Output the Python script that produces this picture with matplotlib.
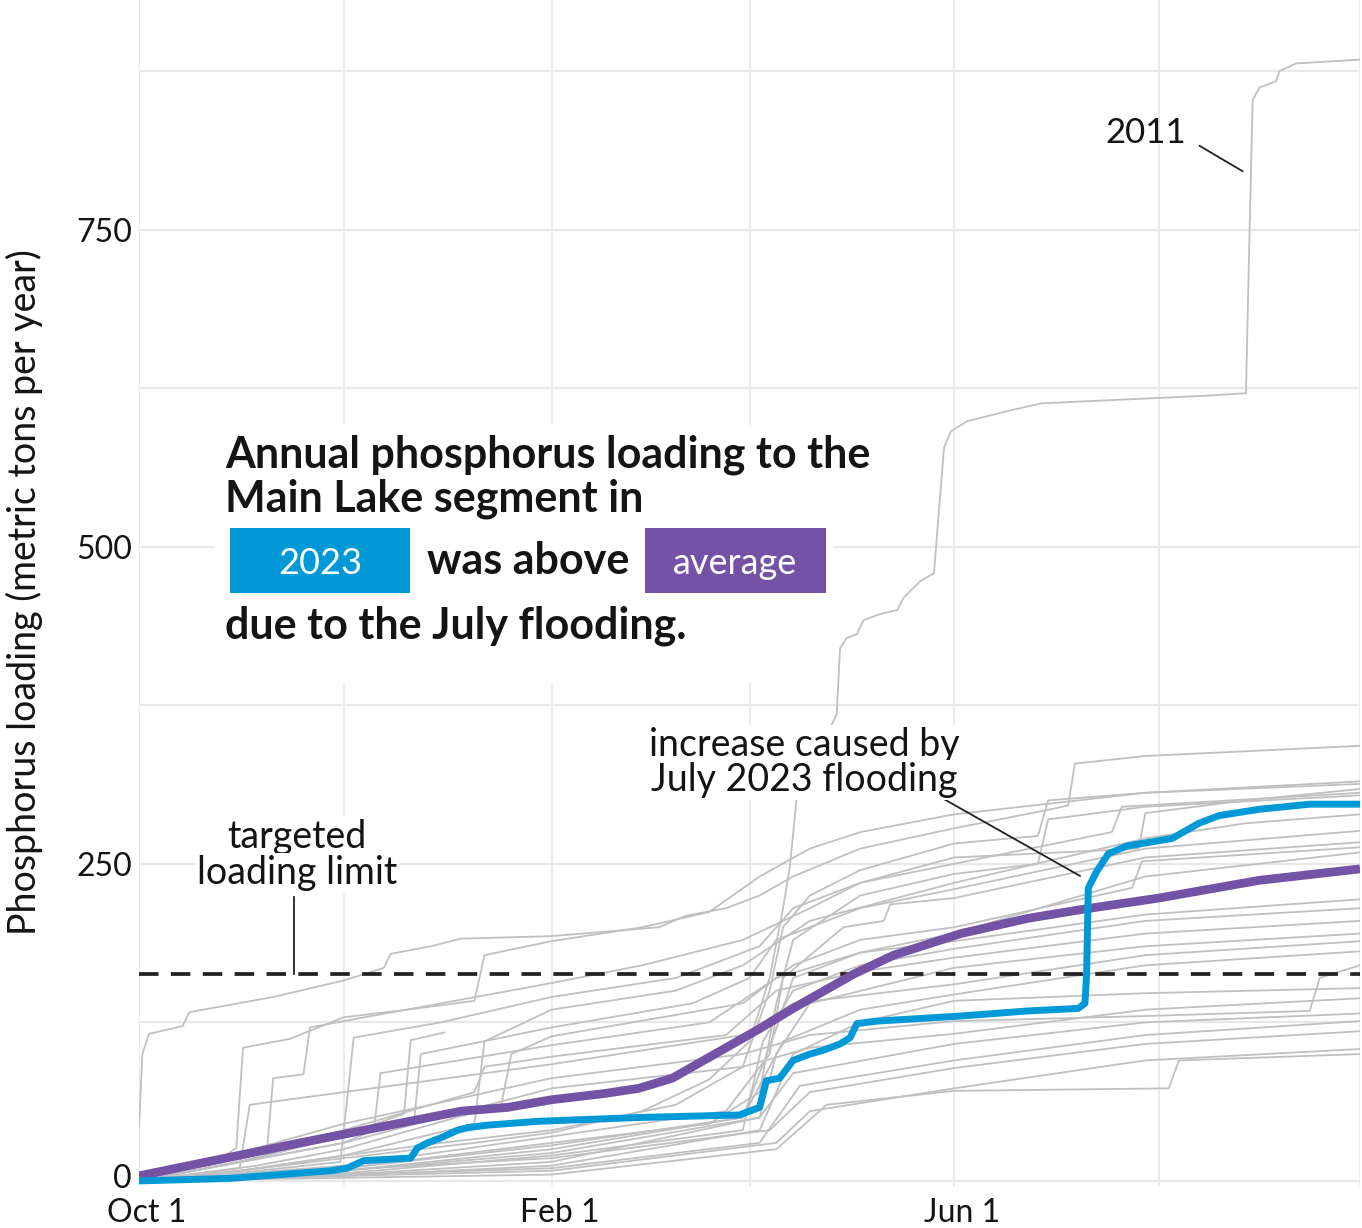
import matplotlib
matplotlib.use("Agg")
import matplotlib.pyplot as plt
from matplotlib.patches import Rectangle
import matplotlib.transforms as mtransforms

W, H = 1362, 1228
plt.rcParams['font.family'] = ['Lato', 'DejaVu Sans']

# x axis is days since Oct 1 (water year)
grid_days = [0, 61, 123, 182, 243, 304, 364]
tick_days = [0, 123, 243]
tick_labels = ["Oct 1", "Feb 1", "Jun 1"]
grid_load = [0, 125, 250, 375, 500, 625, 750, 875]
tick_load = [0, 250, 500, 750]
loading_limit = 163

# cumulative loading (metric tons) for past water years, (day, load)
wy2011 = [(0, 0), (30, 8), (61, 18), (100, 30), (123, 38), (150, 55), (170, 80), (182, 110),
          (188, 160), (192, 215), (194, 247), (196, 300), (202, 335), (208, 368), (209, 420),
          (211, 428), (214, 431), (216, 442), (221, 447), (226, 450), (228, 460), (233, 473),
          (237, 479), (238, 513), (240, 578), (242, 591), (247, 599), (259, 607), (269, 613),
          (318, 619), (330, 621), (331, 740), (332, 852), (334, 862), (339, 867), (340, 875),
          (345, 881), (364, 884)]
past_01 = [(0, 42), (1, 100), (3, 116), (13, 122), (15, 133), (40, 145), (61, 158), (73, 168),
           (75, 179), (87, 185), (96, 191), (123, 193), (155, 200), (163, 209), (175, 215),
           (185, 225), (195, 240), (215, 262), (243, 278), (270, 292), (277, 296), (279, 329),
           (300, 335), (340, 340), (364, 343)]
past_02 = [(0, 0), (20, 10), (29, 26), (31, 105), (45, 112), (61, 129), (80, 135), (100, 142),
           (103, 178), (123, 189), (150, 200), (170, 212), (185, 240), (200, 262), (215, 275),
           (243, 289), (280, 300), (300, 306), (364, 315)]
past_03 = [(0, 0), (30, 8), (61, 20), (90, 30), (123, 40), (160, 60), (180, 90), (188, 150),
           (192, 200), (200, 225), (215, 245), (243, 266), (268, 272), (271, 300), (300, 306),
           (364, 313)]
past_04 = [(0, 0), (20, 10), (38, 20), (40, 81), (49, 84), (51, 121), (61, 126), (90, 140),
           (123, 156), (150, 170), (180, 190), (200, 215), (215, 235), (243, 255), (298, 262),
           (300, 290), (330, 300), (364, 309)]
past_05 = [(0, 0), (25, 5), (60, 15), (62, 63), (64, 113), (90, 125), (123, 145), (160, 160),
           (185, 185), (195, 215), (215, 235), (243, 250), (290, 275), (293, 295), (364, 306)]
past_06 = [(0, 0), (40, 5), (61, 10), (123, 30), (170, 45), (185, 70), (190, 140), (195, 190),
           (215, 225), (243, 242), (268, 250), (271, 285), (300, 295), (364, 304)]
past_07 = [(0, 0), (30, 8), (61, 20), (100, 45), (103, 110), (123, 135), (160, 150), (180, 170),
           (200, 205), (243, 235), (300, 270), (330, 282), (364, 289)]
past_08 = [(0, 0), (30, 15), (61, 35), (82, 47), (84, 100), (123, 121), (165, 140), (182, 160),
           (190, 190), (215, 215), (243, 230), (300, 262), (364, 276)]
past_09 = [(0, 0), (61, 12), (123, 35), (175, 55), (188, 100), (192, 160), (210, 200), (222, 205),
           (224, 218), (243, 223), (300, 255), (364, 267)]
past_10 = [(0, 0), (35, 12), (61, 25), (108, 60), (111, 100), (123, 114), (180, 140), (195, 170),
           (215, 190), (243, 200), (296, 231), (299, 252), (364, 263)]
past_11 = [(0, 0), (61, 8), (123, 25), (180, 50), (190, 120), (195, 160), (215, 180), (243, 195),
           (300, 240), (364, 259)]
past_12 = [(0, 0), (61, 30), (70, 40), (72, 85), (123, 107), (170, 125), (190, 160), (215, 180),
           (243, 189), (300, 210), (364, 222)]
past_13 = [(0, 0), (61, 6), (123, 20), (180, 40), (186, 110), (195, 150), (215, 170), (243, 183),
           (300, 205), (364, 215)]
past_14 = [(0, 0), (61, 40), (100, 70), (103, 90), (123, 98), (175, 115), (190, 150), (215, 165),
           (243, 176), (300, 195), (364, 205)]
past_15 = [(0, 0), (61, 5), (123, 15), (185, 50), (190, 100), (200, 140), (223, 155), (243, 168),
           (300, 185), (364, 195)]
past_16 = [(0, 0), (30, 10), (33, 60), (61, 70), (123, 92), (180, 115), (195, 140), (243, 155),
           (300, 178), (364, 189)]
past_17 = [(0, 0), (61, 10), (123, 28), (180, 50), (192, 110), (215, 135), (243, 147), (300, 170),
           (364, 181)]
past_18 = [(0, 0), (61, 45), (123, 81), (180, 100), (200, 115), (243, 126), (300, 130), (349, 134),
           (352, 160), (364, 170)]
past_19 = [(0, 0), (61, 4), (123, 12), (185, 40), (195, 100), (215, 125), (243, 142), (300, 148),
           (364, 152)]
past_20 = [(0, 0), (61, 30), (123, 73), (180, 90), (200, 105), (243, 116), (300, 135), (364, 144)]
past_21 = [(0, 0), (61, 8), (123, 22), (185, 50), (195, 85), (243, 108), (300, 125), (364, 132)]
past_22 = [(0, 0), (123, 10), (185, 30), (197, 75), (243, 95), (300, 115), (364, 126)]
past_23 = [(0, 0), (123, 18), (188, 40), (200, 70), (243, 89), (300, 108), (364, 118)]
past_24 = [(0, 0), (123, 8), (190, 30), (200, 55), (243, 73), (300, 95), (364, 104)]
past_25 = [(0, 0), (123, 5), (190, 25), (205, 60), (243, 71), (307, 73), (310, 95), (364, 100)]
wy2024 = [(0, 0), (30, 15), (60, 35), (79, 53), (81, 111), (91, 117)]

past_years = [wy2011, past_01, past_02, past_03, past_04, past_05, past_06, past_07, past_08,
              past_09, past_10, past_11, past_12, past_13, past_14, past_15, past_16, past_17,
              past_18, past_19, past_20, past_21, past_22, past_23, past_24, past_25, wy2024]

wy2023_days = [0, 27, 57, 62, 67, 81, 83, 86, 90, 95, 98, 104, 119, 149, 179, 185, 187, 191, 195,
               200, 204, 209, 212, 214, 220, 245, 265, 280, 282, 282.5, 283, 285.5, 289, 294.5,
               308, 312, 316, 322, 334, 349, 364]
wy2023_load = [0, 2, 8, 10, 16, 18, 26, 30, 34, 40, 42, 44, 47, 50, 52, 58, 79, 81, 95,
               100, 103, 108, 113, 124, 126, 130, 134, 136, 140, 163, 231, 244, 258, 264,
               270, 276, 282, 288, 293, 297, 297]

avg_days = [0, 48, 96, 110, 123, 139, 149, 159, 169, 179, 185, 195, 205, 213, 225, 245, 265,
            281, 304, 334, 364]
avg_load = [4, 30, 55, 58, 64, 69, 73, 81, 96, 111, 120, 136, 151, 163, 178, 195, 207,
            214, 223, 237, 246]

gray = "#c0c0c2"
blue = "#0099d8"
purple = "#7452a6"
grid_c = "#e8e8e8"
ink = "#141414"

fig = plt.figure(figsize=(W / 100, H / 100), dpi=100)
ax = fig.add_axes([139 / W, 1 - 1186 / H, (1360 - 139) / W, 1186 / H])
ax.set_xlim(0, 364)
ax.set_ylim(-4, 931)

for d in grid_days:
    ax.axvline(d, color=grid_c, lw=1.2, zorder=0)
for v in grid_load:
    ax.axhline(v, color=grid_c, lw=1.6, zorder=0)

for yr in past_years:
    ax.plot([p[0] for p in yr], [p[1] for p in yr], color=gray, lw=1.3, zorder=2,
            solid_joinstyle="round")

ax.axhline(loading_limit, color="#222222", lw=2.7, dashes=(5.2, 3.3), zorder=3)
ax.plot(avg_days, avg_load, color=purple, lw=6.3, zorder=4, solid_capstyle="butt")
ax.plot(wy2023_days, wy2023_load, color=blue, lw=5, zorder=5, solid_capstyle="butt")

for s in ax.spines.values():
    s.set_visible(False)
ax.set_xticks(tick_days)
ax.set_xticklabels(tick_labels)
ax.set_yticks(tick_load)
ax.tick_params(length=0, labelsize=23, colors=ink)
ax.tick_params(axis="x", pad=9)
ax.tick_params(axis="y", pad=5)
off = mtransforms.ScaledTranslation(0.08, 0, fig.dpi_scale_trans)
for lab in ax.get_xticklabels():
    lab.set_transform(lab.get_transform() + off)
# lift the "0" label a little so it clears "Oct 1"
zero_lab = ax.get_yticklabels()[0]
zero_lab.set_transform(zero_lab.get_transform()
                       + mtransforms.ScaledTranslation(0, 0.05, fig.dpi_scale_trans))


def fx(px):
    return px / W


def fy(py):
    return 1 - py / H


fig.text(fx(24), fy(592), "Phosphorus loading (metric tons per year)", fontsize=27,
         rotation=90, ha="center", va="center", color=ink)

# white panel behind the headline
fig.patches.append(Rectangle((fx(215), fy(682)), fx(833) - fx(215), fy(425) - fy(682),
                             transform=fig.transFigure, facecolor="white", edgecolor="none",
                             zorder=1))
fig.text(fx(225), fy(467), "Annual phosphorus loading to the", fontsize=31, fontweight="bold",
         color=ink, va="baseline", zorder=3)
fig.text(fx(225), fy(511), "Main Lake segment in", fontsize=31, fontweight="bold",
         color=ink, va="baseline", zorder=3)
fig.patches.append(Rectangle((fx(230), fy(593)), fx(410) - fx(230), fy(528) - fy(593),
                             transform=fig.transFigure, facecolor=blue, edgecolor="none",
                             zorder=2))
fig.text(fx(320), fy(574), "2023", fontsize=26, color="white", ha="center", va="baseline",
         zorder=3)
fig.text(fx(427), fy(574), "was above", fontsize=31, fontweight="bold", color=ink,
         va="baseline", zorder=3)
fig.patches.append(Rectangle((fx(645), fy(593)), fx(826) - fx(645), fy(528) - fy(593),
                             transform=fig.transFigure, facecolor=purple, edgecolor="none",
                             zorder=2))
fig.text(fx(735.5), fy(574), "average", fontsize=26, color="white", ha="center", va="baseline",
         zorder=3)
fig.text(fx(225), fy(638), "due to the July flooding.", fontsize=31, fontweight="bold",
         color=ink, va="baseline", zorder=3)

# annotations
ann_box = dict(boxstyle="square,pad=0.05", facecolor="white", edgecolor="none")
fig.text(fx(297), fy(848), "targeted", fontsize=27, ha="center", va="baseline",
         color=ink, bbox=ann_box, zorder=3)
fig.text(fx(297), fy(884), "loading limit", fontsize=27, ha="center", va="baseline",
         color=ink, bbox=ann_box, zorder=3)
ax.plot([46.2, 46.2], [224, loading_limit], color="#222222", lw=1.3, zorder=3)

fig.text(fx(804), fy(756), "increase caused by", fontsize=27, ha="center", va="baseline",
         color=ink, bbox=ann_box, zorder=3)
fig.text(fx(804), fy(791), "July 2023 flooding", fontsize=27, ha="center", va="baseline",
         color=ink, bbox=ann_box, zorder=3)
ax.plot([237.3, 280.5], [305, 240.5], color="#222222", lw=1.3, zorder=6)

fig.text(fx(1146), fy(143), "2011", fontsize=25, ha="center", va="baseline",
         color=ink, zorder=3)
ax.plot([316.2, 329], [816, 796], color="#222222", lw=1.3, zorder=6)

fig.savefig("out.png", dpi=100, facecolor="white")
